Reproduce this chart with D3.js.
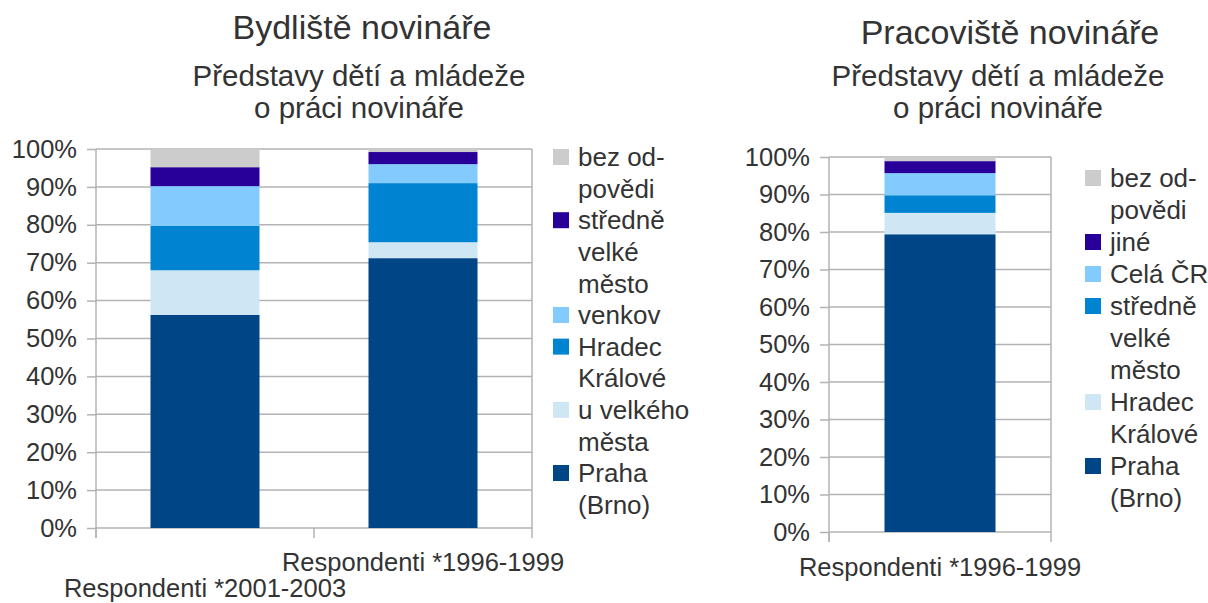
<!DOCTYPE html>
<html lang="cs">
<head>
<meta charset="UTF-8">
<title>Bydliště a pracoviště novináře</title>
<script src="https://d3js.org/d3.v7.min.js"></script>
<style>
body, html {
	margin: 0;
	padding: 0;
	background: #fff;
}
text {
	font-family: "Liberation Sans", Arial, sans-serif;
	fill: #333;
}
.title { font-size: 34px; text-anchor: middle; }
.subtitle { font-size: 29.5px; text-anchor: middle; }
.tickLabel, .catLabel { font-size: 25.5px; }
.legend text { font-size: 26px; }
.grid line, .frame { stroke: #b3b3b3; stroke-width: 1.5px; fill: none; }
.axis path { display: none; }
.axis line { stroke: #b3b3b3; stroke-width: 1.5px; }
</style>
</head>
<body>
<script>
// ---- data: left chart (Bydliště) ----
var leftCategories = ["Respondenti *2001-2003", "Respondenti *1996-1999"];
var leftSeries = ["Praha (Brno)", "u velkého města", "Hradec Králové", "venkov", "středně velké město", "bez odpovědi"];
var leftPraha      = [56.2, 71.2];
var leftUVelkeho   = [11.8, 4.2];
var leftHradec     = [11.7, 15.6];
var leftVenkov     = [10.5, 5.0];
var leftStredne    = [5.0, 3.2];
var leftBez        = [4.8, 0.8];
var leftLegend = [["bez od-", "povědi"], ["středně", "velké", "město"], ["venkov"], ["Hradec", "Králové"], ["u velkého", "města"], ["Praha", "(Brno)"]];

// ---- data: right chart (Pracoviště) ----
var rightCategories = ["Respondenti *1996-1999"];
var rightSeries = ["Praha (Brno)", "Hradec Králové", "středně velké město", "Celá ČR", "jiné", "bez odpovědi"];
var rightPraha   = [79.4];
var rightHradec  = [5.7];
var rightStredne = [4.7];
var rightCela    = [5.9];
var rightJine    = [3.2];
var rightBez     = [1.1];
var rightLegend = [["bez od-", "povědi"], ["jiné"], ["Celá ČR"], ["středně", "velké", "město"], ["Hradec", "Králové"], ["Praha", "(Brno)"]];

var yTicks = [0, 10, 20, 30, 40, 50, 60, 70, 80, 90, 100];

var w = 1208, h = 603;
var svg = d3.select("body").append("svg")
	.attr("width", w)
	.attr("height", h);

function drawChart(p) {
	var g = svg.append("g");

	var x = d3.scaleBand()
		.domain(p.categories)
		.range([p.left, p.right])
		.paddingInner(0.5)
		.paddingOuter(0.25);
	var y = d3.scaleLinear().domain([0, 100]).range([p.bottom, p.top]);

	// titles
	g.append("text").attr("class", "title")
		.attr("x", p.titleX).attr("y", p.titleY).text(p.title);
	p.subtitle.forEach(function(s, i) {
		g.append("text").attr("class", "subtitle")
			.attr("x", p.subX).attr("y", 86 + i * 32).text(s);
	});

	// gridlines
	g.append("g").attr("class", "grid")
		.selectAll("line").data(yTicks).enter().append("line")
		.attr("x1", p.left).attr("x2", p.right)
		.attr("y1", function(d) { return y(d); })
		.attr("y2", function(d) { return y(d); });
	g.append("line").attr("class", "frame")
		.attr("x1", p.right).attr("x2", p.right)
		.attr("y1", p.top).attr("y2", p.bottom);

	// y axis
	var yAxis = d3.axisLeft(y)
		.tickValues(yTicks)
		.tickSize(9)
		.tickPadding(10)
		.tickFormat(function(d) { return d + "%"; });
	var ya = g.append("g").attr("class", "axis")
		.attr("transform", "translate(" + p.left + ",0)")
		.call(yAxis);
	ya.selectAll("text").attr("class", "tickLabel").attr("fill", null);
	ya.append("line").attr("y1", p.top).attr("y2", p.bottom + 10);

	// category ticks on band boundaries
	var bounds = d3.range(p.categories.length + 1).map(function(i) { return p.left + i * x.step(); });
	g.append("g").attr("class", "axis")
		.selectAll("line").data(bounds).enter().append("line")
		.attr("x1", function(d) { return d; }).attr("x2", function(d) { return d; })
		.attr("y1", p.bottom).attr("y2", p.bottom + 10);

	// stacked bars
	var rows = p.categories.map(function(c, i) {
		var r = { cat: c };
		p.series.forEach(function(s, j) { r[s] = p.values[j][i]; });
		return r;
	});
	var stacked = d3.stack().keys(p.series)(rows);
	g.selectAll(".layer").data(stacked).enter().append("g")
		.attr("class", "layer")
		.attr("fill", function(d, i) { return p.colors[i]; })
		.selectAll("rect").data(function(d) { return d; }).enter().append("rect")
		.attr("x", function(d) { return x(d.data.cat); })
		.attr("width", x.bandwidth())
		.attr("y", function(d) { return y(d[1]); })
		.attr("height", function(d) { return y(d[0]) - y(d[1]); });

	// category labels
	p.categories.forEach(function(c, i) {
		g.append("text").attr("class", "catLabel")
			.attr("text-anchor", "middle")
			.attr("x", x(c) + x.bandwidth() / 2)
			.attr("y", p.catY[i])
			.text(c);
	});

	// legend (top entry = last series)
	var lg = g.append("g").attr("class", "legend");
	var line = 0;
	var order = p.series.map(function(s, i) { return i; }).reverse();
	order.forEach(function(si, k) {
		var lines = p.legend[k];
		var cy = p.legendY + line * p.legendStep;
		lg.append("rect")
			.attr("x", p.legendX).attr("y", cy - 8)
			.attr("width", 16).attr("height", 16)
			.attr("fill", p.colors[si]);
		lines.forEach(function(t, li) {
			lg.append("text")
				.attr("x", p.legendX + 25)
				.attr("y", cy + li * p.legendStep)
				.attr("dy", "0.35em")
				.text(t);
		});
		line += lines.length;
	});
}

drawChart({
	categories: leftCategories,
	series: leftSeries,
	values: [leftPraha, leftUVelkeho, leftHradec, leftVenkov, leftStredne, leftBez],
	colors: ["#004586", "#cfe7f5", "#0084d1", "#83caff", "#280099", "#cccccc"],
	legend: leftLegend,
	left: 96, right: 532, top: 149, bottom: 528,
	title: "Bydliště novináře", titleX: 362, titleY: 39,
	subtitle: ["Představy dětí a mládeže", "o práci novináře"], subX: 359,
	catY: [597, 571],
	legendX: 553, legendY: 157, legendStep: 31.6
});

drawChart({
	categories: rightCategories,
	series: rightSeries,
	values: [rightPraha, rightHradec, rightStredne, rightCela, rightJine, rightBez],
	colors: ["#004586", "#cfe7f5", "#0084d1", "#83caff", "#280099", "#cccccc"],
	legend: rightLegend,
	left: 829, right: 1051, top: 157, bottom: 532,
	title: "Pracoviště novináře", titleX: 1010, titleY: 44,
	subtitle: ["Představy dětí a mládeže", "o práci novináře"], subX: 998,
	catY: [576],
	legendX: 1085, legendY: 178, legendStep: 32
});
</script>
</body>
</html>
